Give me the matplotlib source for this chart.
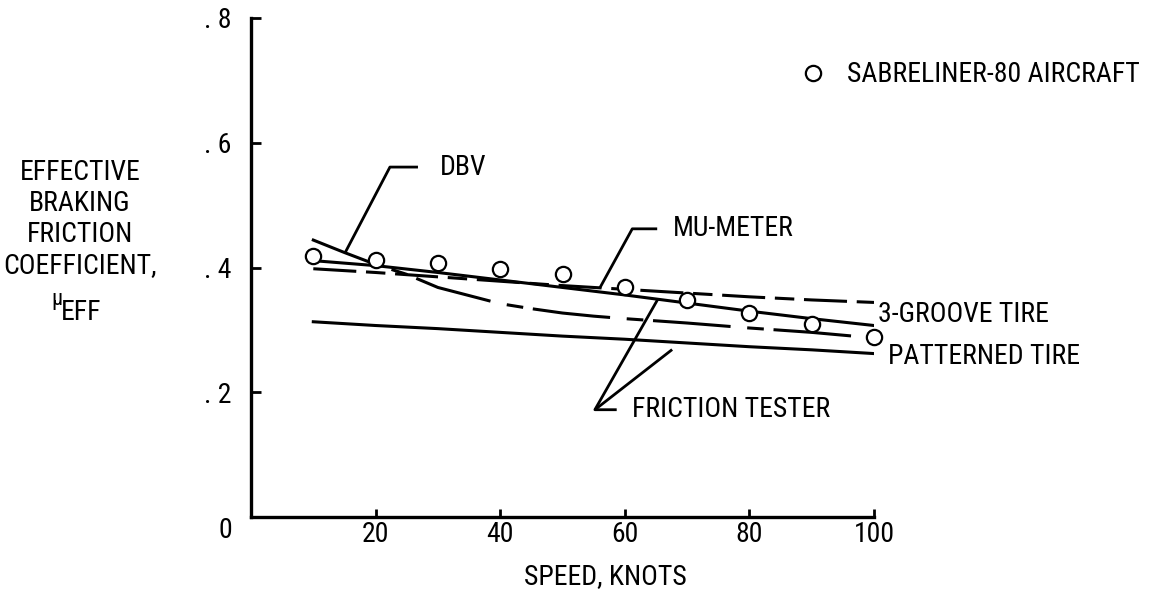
import numpy as np
import matplotlib.pyplot as plt
from matplotlib import font_manager as fm
from matplotlib.transforms import offset_copy

# values
speed = [10, 20, 30, 40, 50, 60, 70, 80, 90, 100]
sabreliner = [0.419, 0.412, 0.407, 0.398, 0.390, 0.369, 0.348, 0.327, 0.310, 0.289]
groove_tire = [0.411, 0.403, 0.392, 0.380, 0.368, 0.356, 0.343, 0.330, 0.318, 0.307]
patterned_tire = [0.313, 0.307, 0.302, 0.296, 0.290, 0.285, 0.279, 0.273, 0.268, 0.262]
mu_meter = [0.398, 0.392, 0.385, 0.378, 0.371, 0.365, 0.359, 0.353, 0.348, 0.344]
dbv_speed = [10, 15, 20, 25, 30, 35, 40, 45, 50, 55, 60, 70, 80, 90, 100]
dbv = [0.444, 0.424, 0.405, 0.389, 0.368, 0.355, 0.342, 0.334, 0.327, 0.322,
       0.318, 0.311, 0.303, 0.296, 0.287]

xticks = [20, 40, 60, 80, 100]
yticks = [0.2, 0.4, 0.6, 0.8]
ytick_labels = ['. 2', '. 4', '. 6', '. 8']


def pick_font():
    # the original lettering is a narrow sans; use one if there is one
    for name in ['Liberation Sans Narrow', 'Arial Narrow', 'Roboto Condensed',
                 'Open Sans Condensed']:
        try:
            fm.findfont(fm.FontProperties(family=name), fallback_to_default=False)
            return [name, 'DejaVu Sans'], 'normal'
        except ValueError:
            pass
    for name in ['Noto Sans', 'DejaVu Sans', 'Open Sans', 'Roboto']:
        path = fm.findfont(fm.FontProperties(family=name, stretch='condensed'))
        if 'ondensed' in path:
            return [name, 'DejaVu Sans'], 'condensed'
    return ['Liberation Sans', 'DejaVu Sans'], 'normal'


family, stretch = pick_font()
plt.rcParams['font.family'] = family
plt.rcParams['font.stretch'] = stretch
plt.rcParams['lines.scale_dashes'] = False

W, H = 1151, 593
fig = plt.figure(figsize=(W / 100, H / 100), dpi=100)

# size the lettering so the legend text is about as wide as in the reference
renderer = fig.canvas.get_renderer()
probe = fig.text(0, 0, 'SABRELINER-80 AIRCRAFT', fontsize=19)
FS = 19 * min(1.05, 315 / probe.get_window_extent(renderer).width)
probe.remove()

ax = fig.add_axes([251 / W, 1 - 517 / H, (874 - 251) / W, (517 - 18) / H])

lw = 2.2
ax.plot(speed, groove_tire, color='black', lw=lw)
ax.plot(speed, patterned_tire, color='black', lw=lw)
ax.plot(speed, mu_meter, color='black', lw=lw, linestyle=(0, (31, 7, 14, 7)))
# DBV: solid at the start, then long/short dashes
ax.plot(dbv_speed[:3], dbv[:3], color='black', lw=lw)
ax.plot(dbv_speed[2:], dbv[2:], color='black', lw=lw, linestyle=(75, (12, 7, 56, 12)))

circles, = ax.plot(speed, sabreliner, 'o', mfc='white', mec='black', ms=11, mew=1.6,
                   zorder=5, clip_on=False, label='SABRELINER-80 AIRCRAFT')

# leader lines
lead = dict(color='black', lw=2, solid_capstyle='butt')
x0 = 15.1
ax.plot([x0, 22.3, 26.8], [np.interp(x0, dbv_speed, dbv), 0.561, 0.561], **lead)
ax.text(30.3, 0.561, 'DBV', fontsize=FS, va='center')

x0 = 56.0
ax.plot([x0, 61.2, 65.2], [np.interp(x0, speed, mu_meter), 0.462, 0.462], **lead)
ax.text(67.7, 0.462, 'MU-METER', fontsize=FS, va='center')

xa, xb = 65.3, 67.6
ax.plot([xa, 55.2, 58.7], [np.interp(xa, speed, groove_tire), 0.172, 0.172], **lead)
ax.plot([55.2, xb], [0.172, np.interp(xb, speed, patterned_tire) - 0.012], **lead)
ax.text(61.2, 0.172, 'FRICTION TESTER', fontsize=FS, va='center')

ax.text(100.6, 0.324, '3-GROOVE TIRE', fontsize=FS, va='center', clip_on=False)
ax.text(102.2, 0.257, 'PATTERNED TIRE', fontsize=FS, va='center', clip_on=False)

ax.legend(handles=[circles], loc='center left', bbox_to_anchor=(799.5 / W, 1 - 75 / H),
          bbox_transform=fig.transFigure, frameon=False, handlelength=1,
          handletextpad=0.7, borderpad=0, borderaxespad=0, fontsize=FS, numpoints=1)

ax.set_xlim(0, 100)
ax.set_ylim(0, 0.8)
ax.set_xticks(xticks)
ax.set_xticklabels([str(t) for t in xticks])
ax.set_yticks(yticks)
ax.set_yticklabels(ytick_labels)
for s in ['top', 'right']:
    ax.spines[s].set_visible(False)
for s in ['left', 'bottom']:
    ax.spines[s].set_linewidth(2.4)
ax.tick_params(axis='x', direction='in', length=6, width=2, pad=3, labelsize=FS)
ax.tick_params(axis='y', direction='in', length=7, width=2, pad=14, labelsize=FS)

zero = offset_copy(ax.transData, fig=fig, x=-26, y=-13, units='dots')
ax.text(0, 0, '0', transform=zero, fontsize=FS, ha='center', va='center')

fig.text(605 / W, 1 - 577 / H, 'SPEED, KNOTS', fontsize=FS, ha='center', va='center')

ylab = ['EFFECTIVE', 'BRAKING', 'FRICTION', 'COEFFICIENT,']
for i, s in enumerate(ylab):
    fig.text(80 / W, 1 - (173 + 30.7 * i) / H, s, fontsize=FS, ha='center', va='center')
fig.text(57 / W, 1 - 300 / H, 'μ', fontsize=FS * 0.8, ha='center', va='center')
fig.text(61 / W, 1 - 313 / H, 'EFF', fontsize=FS, ha='left', va='center')

fig.savefig('out.png', dpi=100)
